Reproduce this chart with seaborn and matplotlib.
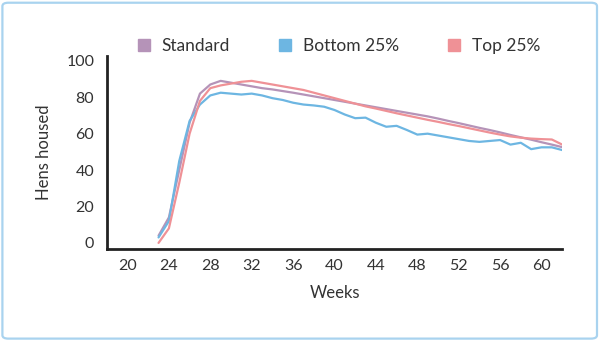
import matplotlib
matplotlib.use("Agg")
import matplotlib.pyplot as plt
from matplotlib.lines import Line2D
from matplotlib.patches import FancyBboxPatch
import seaborn as sns
import pandas as pd

weeks = list(range(23, 63))
standard = [4, 14, 40, 66, 82, 87, 89, 88, 87, 86, 85, 84.3, 83.4, 82.5, 81.5,
            80.5, 79.5, 78.5, 77.5, 76.5, 75.5, 74.5, 73.5, 72.5, 71.5, 70.5,
            69.5, 68.3, 67, 65.8, 64.5, 63.2, 62, 60.7, 59.3, 58, 56.7, 55.3,
            54, 52.6]
bottom25 = [3, 12, 45, 67, 76, 81, 82.5, 82, 81.5, 82, 81, 79.5, 78.5, 77,
            76, 75.5, 74.8, 73, 70.5, 68.5, 68.8, 66, 63.8, 64.3, 62, 59.5,
            60, 59, 58, 57, 56, 55.5, 56, 56.5, 54, 55, 51.5, 52.5, 52.5, 51]
top25 = [0, 8, 33, 60, 78, 85, 86.5, 87.5, 88.5, 89, 88, 87, 86, 85, 84,
         82.5, 81, 79.5, 78, 76.5, 75, 73.8, 72.5, 71.2, 70, 68.8, 67.6,
         66.5, 65.3, 64.2, 63, 61.8, 60.6, 59.5, 58.5, 57.8, 57.3, 57, 56.8,
         54]
series_names = ["Standard", "Bottom 25%", "Top 25%"]
colors = ["#b593b8", "#6db6e2", "#ef9196"]
x_ticks = list(range(20, 61, 4))
y_ticks = list(range(0, 101, 20))

df = pd.concat([
    pd.DataFrame({"Weeks": weeks, "Hens housed": vals, "Series": name})
    for name, vals in zip(series_names, [standard, bottom25, top25])
])

sns.set_style("white")
plt.rcParams["font.family"] = ["Lato", "DejaVu Sans"]

fig = plt.figure(figsize=(6, 3.41), dpi=100)
ax = fig.add_axes([0.178, 0.27, 0.759, 0.566])
sns.lineplot(data=df, x="Weeks", y="Hens housed", hue="Series",
             palette=dict(zip(series_names, colors)), linewidth=1.6,
             legend=False, ax=ax)

ax.set_xlim(18, 62)
ax.set_ylim(-3.3, 102.7)
ax.set_xticks(x_ticks)
ax.set_yticks(y_ticks)
ax.tick_params(axis="both", length=0, labelsize=11.5, labelcolor="#333333")
ax.tick_params(axis="y", pad=9)
ax.tick_params(axis="x", pad=7)
for s in ["top", "right"]:
    ax.spines[s].set_visible(False)
for s in ["left", "bottom"]:
    ax.spines[s].set_color("#222222")
    ax.spines[s].set_linewidth(2)
ax.set_xlabel("Weeks", fontsize=12, color="#333333", labelpad=9)
ax.set_ylabel("Hens housed", fontsize=12, color="#333333", labelpad=10)

handles = [Line2D([], [], marker="s", linestyle="none", markersize=9,
                  markerfacecolor=c, markeredgecolor=c) for c in colors]
fig.legend(handles, series_names, loc="center", bbox_to_anchor=(0.563, 0.866),
           ncol=3, frameon=False, fontsize=12.5, handlelength=1.0,
           handletextpad=0.5, columnspacing=2.7, labelcolor="#333333")

border = FancyBboxPatch((0.004, 0.007), 0.991, 0.985,
                        boxstyle="round,pad=0,rounding_size=0.01",
                        transform=fig.transFigure, facecolor="none",
                        edgecolor="#a9d3ef", linewidth=1.6)
fig.patches.append(border)

fig.savefig("out.png", dpi=100)
